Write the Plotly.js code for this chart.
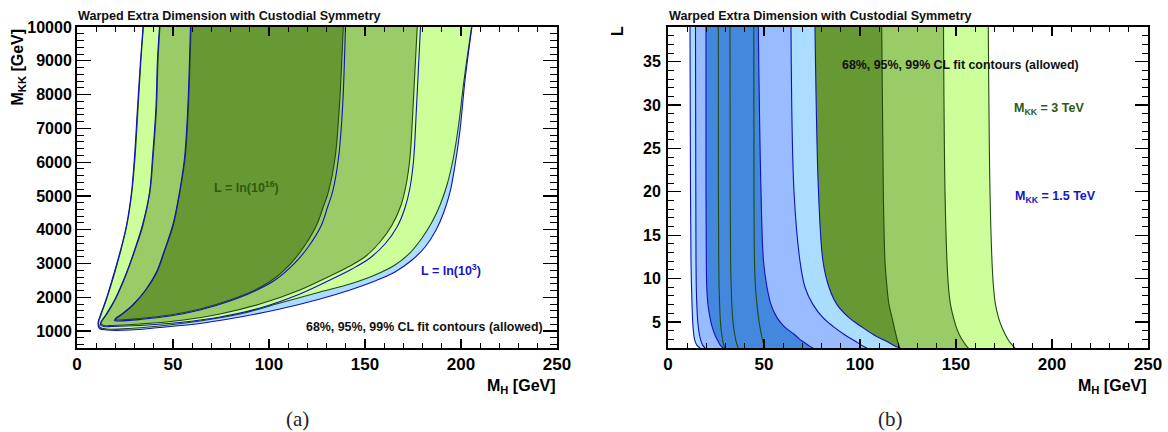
<!DOCTYPE html>
<html>
<head>
<meta charset="utf-8">
<script src="https://cdn.plot.ly/plotly-3.0.1.min.js"></script>
<style>html,body{margin:0;padding:0;background:#fff;}#chart{width:1168px;height:432px;}</style>
</head>
<body>
<div id="chart"></div>
<script>
// ---------- Panel (a): M_KK vs M_H contours ----------
// L = ln(10^16) (green), 99% / 95% / 68% CL
const g99_mh = [34.6, 33.3, 31.8, 30.2, 28.6, 26.0, 22.9, 19.3, 15.6, 12.5, 11.2, 12.0, 15.6, 27.6, 43.2, 64.1, 84.9, 105.7, 126.6, 142.2, 155.2, 165.6, 173.4, 179.7, 184.9, 189.1, 192.7, 195.8, 198.4, 201.6, 205.5];
const g99_mkk = [10000, 9023, 7603, 6123, 5117, 4140, 3400, 2660, 1980, 1477, 1240, 1107, 1062, 1077, 1151, 1299, 1506, 1832, 2157, 2394, 2660, 2956, 3312, 3755, 4229, 4732, 5324, 6064, 6952, 8431, 10000];
const g95_mh = [43.2, 42.2, 41.4, 39.6, 38.0, 34.4, 30.2, 25.5, 20.3, 15.6, 13.0, 12.5, 14.1, 18.2, 32.8, 53.6, 74.5, 95.3, 116.1, 131.8, 142.2, 150.5, 157.8, 164.1, 168.8, 171.4, 173.4, 175.0, 177.2];
const g95_mkk = [10000, 9023, 7603, 6123, 5117, 4140, 3400, 2660, 1980, 1506, 1299, 1210, 1166, 1166, 1210, 1314, 1506, 1802, 2217, 2631, 2927, 3223, 3637, 4140, 4732, 5324, 6123, 7603, 10000];
const g68_mh = [59.4, 58.9, 58.0, 56.3, 53.6, 50.2, 45.8, 41.7, 35.9, 29.2, 23.4, 20.3, 19.8, 21.9, 32.8, 48.4, 64.1, 79.7, 92.7, 103.1, 112.0, 118.8, 124.8, 128.6, 130.9, 134.4, 136.6, 138.7];
const g68_mkk = [10000, 9023, 7603, 6123, 5117, 4140, 3400, 2749, 2217, 1773, 1506, 1388, 1343, 1329, 1373, 1477, 1654, 1921, 2217, 2572, 3045, 3548, 4140, 4732, 5117, 6123, 7603, 10000];
// L = ln(10^3) (blue), 99% / 95% / 68% CL
const b99_mh = [34.4, 33.1, 31.5, 29.9, 28.4, 25.8, 22.7, 19.0, 15.4, 12.2, 10.9, 11.7, 15.6, 27.6, 43.2, 64.1, 84.9, 105.7, 126.6, 142.2, 155.2, 165.6, 174.5, 181.3, 187.0, 191.1, 194.3, 196.9, 199.5, 202.1, 205.7];
const b99_mkk = [10000, 9023, 7603, 6123, 5117, 4140, 3400, 2660, 1980, 1477, 1225, 1077, 1033, 1033, 1107, 1225, 1417, 1654, 1950, 2217, 2483, 2749, 3104, 3489, 3992, 4525, 5117, 5916, 6952, 8431, 10000];
const b95_mh = [42.97, 41.9, 41.1, 39.3, 37.8, 34.1, 30.0, 25.3, 20.1, 15.1, 12.5, 12.2, 14.1, 18.2, 32.8, 53.6, 74.5, 95.3, 116.1, 131.8, 143.2, 152.6, 160.4, 166.7, 170.8, 173.4, 175.3, 176.8, 178.9];
const b95_mkk = [10000, 9023, 7603, 6123, 5117, 4140, 3400, 2660, 1980, 1491, 1269, 1181, 1136, 1136, 1166, 1255, 1417, 1684, 2098, 2512, 2838, 3164, 3578, 4081, 4643, 5235, 6064, 7603, 10000];
const b68_mh = [59.1, 58.6, 57.7, 56.0, 53.4, 49.9, 45.6, 41.4, 35.7, 29.0, 23.2, 20.1, 19.5, 21.9, 32.8, 48.4, 64.1, 79.7, 92.7, 103.6, 113.5, 120.8, 127.1, 130.7, 133.1, 136.2, 138.3, 139.8];
const b68_mkk = [10000, 9023, 7603, 6123, 5117, 4140, 3400, 2749, 2217, 1773, 1491, 1358, 1314, 1299, 1343, 1447, 1625, 1891, 2187, 2527, 3016, 3519, 4110, 4702, 5117, 6123, 7603, 10000];

// ---------- Panel (b): L vs M_H bands ----------
const L_pts = [39, 20, 12, 9, 7, 5.5, 4.5, 3.5, 2.8, 2.3, 2];
// M_KK = 3 TeV (green): left and right edges of each band
const k3_99_left  = [26.2, 26.25, 26.41, 26.61, 26.88, 27.19, 27.5, 28.02, 28.54, 29.06, 29.69];
const k3_99_right = [166.82, 167.71, 168.75, 169.53, 170.57, 172.14, 173.7, 175.78, 177.6, 179.43, 180.73];
const k3_95_left  = [32.29, 32.4, 32.6, 32.92, 33.23, 33.65, 34.11, 34.79, 35.42, 36.04, 36.61];
const k3_95_right = [143.49, 144.27, 145.31, 146.09, 147.14, 148.7, 150.0, 151.82, 153.65, 155.21, 156.41];
const k3_68_left  = [44.69, 44.79, 45.05, 45.57, 46.35, 47.14, 47.81, 48.7, 49.38, 50.0, 50.52];
const k3_68_right = [111.3, 112.14, 113.02, 114.06, 115.1, 116.67, 117.71, 118.75, 119.53, 120.31, 120.83];
// M_KK = 1.5 TeV (blue)
const k15_99_left  = [11.46, 11.72, 11.98, 12.24, 12.5, 12.76, 13.02, 13.44, 14.06, 15.1, 16.67];
const k15_99_right = [76.56, 78.39, 80.73, 83.85, 88.02, 94.27, 100.5, 107.3, 113.5, 117.7, 120.8];
const k15_95_left  = [14.32, 14.48, 14.58, 14.74, 15.0, 15.36, 15.73, 16.41, 17.19, 18.13, 19.27];
const k15_95_right = [64.06, 65.63, 68.75, 71.35, 75.52, 80.73, 85.94, 92.19, 97.4, 101.04, 103.65];
const k15_68_left  = [19.79, 19.79, 19.95, 20.2, 20.83, 21.88, 22.92, 24.48, 26.04, 27.34, 28.8];
const k15_68_right = [47.03, 48.44, 49.74, 51.56, 53.65, 56.77, 60.42, 66.15, 69.79, 73.18, 75.52];

const C = {
  g68: '#669933', g95: '#99cc66', g99: '#ccff99',
  b68: '#4488dd', b95: '#99bbff', b99: '#aaddff',
  gLine: '#1f4a10', bLine: '#1010c0'
};

function fillTrace(x, y, color, xa, ya) {
  return {type: 'scatter', mode: 'lines', x: x, y: y, fill: 'toself', fillcolor: color,
          line: {width: 0, shape: 'spline', smoothing: 1}, xaxis: xa, yaxis: ya, hoverinfo: 'skip'};
}
function lineTrace(x, y, color, xa, ya) {
  return {type: 'scatter', mode: 'lines', x: x, y: y,
          line: {width: 1.1, color: color, shape: 'spline', smoothing: 1}, xaxis: xa, yaxis: ya, hoverinfo: 'skip'};
}
function band(xl, xr) {
  return {x: xl.concat(xr.slice().reverse()), y: L_pts.concat(L_pts.slice().reverse())};
}

const traces = [];
// panel (a)
traces.push(fillTrace(b99_mh, b99_mkk, C.b99, 'x', 'y'));
traces.push(fillTrace(g99_mh, g99_mkk, C.g99, 'x', 'y'));
traces.push(fillTrace(g95_mh, g95_mkk, C.g95, 'x', 'y'));
traces.push(fillTrace(g68_mh, g68_mkk, C.g68, 'x', 'y'));
traces.push(lineTrace(g99_mh, g99_mkk, C.gLine, 'x', 'y'));
traces.push(lineTrace(g95_mh, g95_mkk, C.gLine, 'x', 'y'));
traces.push(lineTrace(g68_mh, g68_mkk, C.gLine, 'x', 'y'));
traces.push(lineTrace(b99_mh, b99_mkk, C.bLine, 'x', 'y'));
traces.push(lineTrace(b95_mh, b95_mkk, C.bLine, 'x', 'y'));
traces.push(lineTrace(b68_mh, b68_mkk, C.bLine, 'x', 'y'));
// panel (b)
[[k3_99_left, k3_99_right, C.g99], [k3_95_left, k3_95_right, C.g95], [k3_68_left, k3_68_right, C.g68],
 [k15_99_left, k15_99_right, C.b99], [k15_95_left, k15_95_right, C.b95], [k15_68_left, k15_68_right, C.b68]]
 .forEach(function (b) { const p = band(b[0], b[1]); traces.push(fillTrace(p.x, p.y, b[2], 'x2', 'y2')); });
[k3_99_left, k3_99_right, k3_95_left, k3_95_right, k3_68_left, k3_68_right].forEach(function (e) {
  traces.push(lineTrace(e, L_pts, C.gLine, 'x2', 'y2'));
});
[k15_99_left, k15_99_right, k15_95_left, k15_95_right, k15_68_left, k15_68_right].forEach(function (e) {
  traces.push(lineTrace(e, L_pts, C.bLine, 'x2', 'y2'));
});

const FONT = 'Liberation Sans, Arial, Helvetica, sans-serif';
const xtickfont = {family: FONT, size: 17, color: '#000', weight: 'bold'};
const ytickfont = {family: FONT, size: 16, color: '#000', weight: 'bold'};
function xAxis(domain, anchor) {
  return {domain: domain, anchor: anchor, range: [0, 250], tick0: 0, dtick: 50, ticks: 'inside', ticklen: 9,
          tickwidth: 1.3, tickcolor: '#000', showline: true, linecolor: '#000', linewidth: 2, mirror: 'allticks',
          showgrid: false, zeroline: false, tickfont: xtickfont, ticklabelstandoff: 0, tickformat: 'd',
          minor: {ticks: 'inside', dtick: 10, ticklen: 5, tickcolor: '#000', tickwidth: 1, showgrid: false}};
}
const ydom = [84 / 432, 405 / 432];
const layout = {
  width: 1168, height: 432, margin: {l: 0, r: 0, t: 0, b: 0},
  paper_bgcolor: '#fff', plot_bgcolor: '#fff', showlegend: false, hovermode: false,
  xaxis: xAxis([77 / 1168, 557 / 1168], 'y'),
  xaxis2: xAxis([668 / 1168, 1148 / 1168], 'y2'),
  yaxis: {domain: ydom, anchor: 'x', range: [500, 10000], tick0: 0, dtick: 1000, ticks: 'inside', ticklen: 14,
          tickwidth: 1.3, tickcolor: '#000', showline: true, linecolor: '#000', linewidth: 2, mirror: 'allticks',
          showgrid: false, zeroline: false, tickfont: ytickfont, ticklabelstandoff: 0, tickformat: 'd',
          minor: {ticks: 'inside', dtick: 200, ticklen: 7, tickcolor: '#000', tickwidth: 1, showgrid: false}},
  yaxis2: {domain: ydom, anchor: 'x2', range: [2, 39], tick0: 0, dtick: 5, ticks: 'inside', ticklen: 13,
          tickwidth: 1.3, tickcolor: '#000', showline: true, linecolor: '#000', linewidth: 2, mirror: 'allticks',
          showgrid: false, zeroline: false, tickfont: ytickfont, ticklabelstandoff: 2, tickformat: 'd',
          minor: {ticks: 'inside', dtick: 1, ticklen: 6, tickcolor: '#000', tickwidth: 1, showgrid: false}},
  annotations: []
};
function ann(text, px, py, opts) {
  const a = Object.assign({text: text, xref: 'paper', yref: 'paper', x: px / 1168, y: 1 - py / 432,
    showarrow: false, xanchor: 'center', yanchor: 'middle',
    font: {family: FONT, size: 12, color: '#111'}}, opts || {});
  layout.annotations.push(a);
}
const TITLE = '<b>Warped Extra Dimension with Custodial Symmetry</b>';
ann(TITLE, 76, 16, {xanchor: 'left', font: {family: FONT, size: 12.6, color: '#111'}});
ann(TITLE, 667, 16, {xanchor: 'left', font: {family: FONT, size: 12.6, color: '#111'}});
ann('<b>M<sub>KK</sub> [GeV]</b>', 18, 27, {textangle: -90, yanchor: 'top', font: {family: FONT, size: 16, color: '#000'}});
ann('<b>M<sub>H</sub> [GeV]</b>', 558, 386, {xanchor: 'right', font: {family: FONT, size: 16, color: '#000'}});
ann('<b>M<sub>H</sub> [GeV]</b>', 1149, 386, {xanchor: 'right', font: {family: FONT, size: 16, color: '#000'}});
ann('<b>L</b>', 617, 31, {textangle: -90, font: {family: FONT, size: 16, color: '#000'}});
ann('(a)', 297, 419, {font: {family: 'Liberation Serif, DejaVu Serif, serif', size: 21, color: '#222'}});
ann('(b)', 890, 419, {font: {family: 'Liberation Serif, DejaVu Serif, serif', size: 21, color: '#222'}});
ann('<b>L = ln(10<sup>16</sup>)</b>', 246, 187, {font: {family: FONT, size: 12.5, color: '#2d5a12'}});
ann('<b>L = ln(10<sup>3</sup>)</b>', 451, 270, {font: {family: FONT, size: 12.5, color: '#1515c8'}});
ann('<b>68%, 95%, 99% CL fit contours (allowed)</b>', 545, 327, {xanchor: 'right', font: {family: FONT, size: 12.4, color: '#111'}});
ann('<b>68%, 95%, 99% CL fit contours (allowed)</b>', 960, 65, {font: {family: FONT, size: 12.4, color: '#111'}});
ann('<b>M<sub>KK</sub> = 3 TeV</b>', 1049, 109, {font: {family: FONT, size: 12.5, color: '#2d5a12'}});
ann('<b>M<sub>KK</sub> = 1.5 TeV</b>', 1055, 197, {font: {family: FONT, size: 12.5, color: '#1515c8'}});

Plotly.newPlot('chart', traces, layout, {staticPlot: true, displayModeBar: false});
</script>
</body>
</html>
